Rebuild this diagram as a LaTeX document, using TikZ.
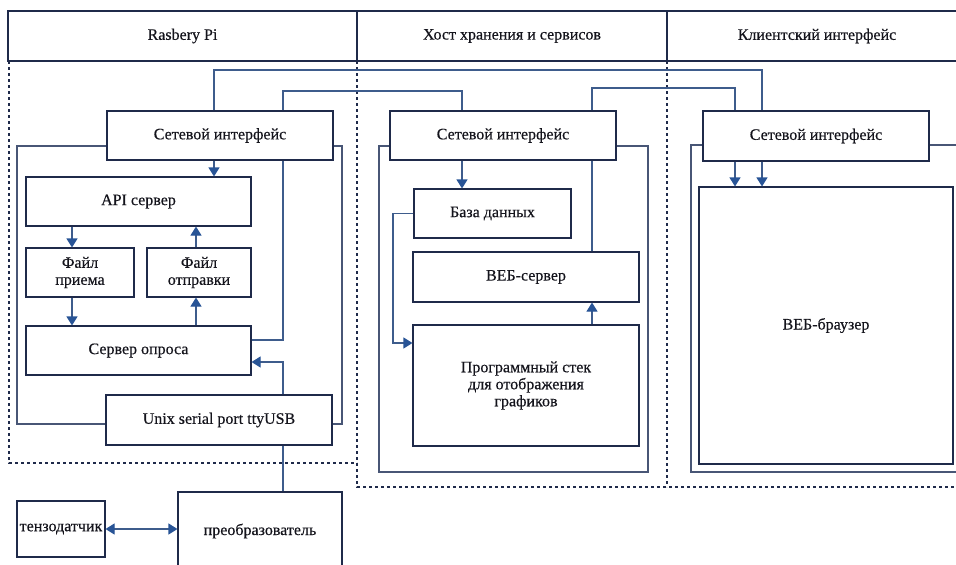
\documentclass[tikz,border=0pt]{standalone}
\usepackage{fontspec}
\setmainfont{Liberation Serif}[FakeBold=0.4]
\usetikzlibrary{arrows.meta}

\definecolor{navyc}{RGB}{31,42,74}
\definecolor{linec}{RGB}{62,92,140}
\definecolor{tipc}{RGB}{40,84,150}
\definecolor{framec}{RGB}{72,86,118}
\definecolor{inkc}{RGB}{20,20,28}

\begin{document}
\begin{tikzpicture}[
    x=1pt, y=-1pt,
    >={Triangle[width=11pt,length=9pt,color=tipc]},
    font=\fontsize{16}{17}\selectfont,
    text=inkc,
    box/.style={draw=navyc, line width=1.1pt, fill=white, inner sep=0pt, align=center},
    head/.style={draw=navyc, line width=1.4pt, inner sep=0pt, minimum height=50pt},
    wire/.style={draw=linec, line width=1.1pt},
    lane/.style={draw=navyc, line width=1.1pt, dash pattern=on 3pt off 3pt},
    frame/.style={draw=framec, line width=1.1pt}
    ]

    \clip (0,0) rectangle (956,565);

    % lanes and inner frames
    \draw[lane] (9,61) -- (9,463) -- (357,463);
    \draw[lane] (357,61) -- (357,487) -- (970,487);
    \draw[lane] (667,61) -- (667,487);
    \draw[frame] (17,146) rectangle (342,424);
    \draw[frame] (379,146) rectangle (648,472);
    \draw[frame] (691,145) rectangle (990,472);

    \node [head, minimum width=349pt] (hPi) at (182.5,36) {Rasbery Pi};
    \node [head, minimum width=310pt] (hHost) at (512,36) {Хост хранения и сервисов};
    \node [head, minimum width=300pt] (hClient) at (817,36) {Клиентский интерфейс};

    % Rasbery Pi
    \node [box, minimum width=226pt, minimum height=49pt] (netPi) at (220,135.5) {Сетевой интерфейс};
    \node [box, minimum width=225pt, minimum height=49pt] (api) at (138.5,201.5) {API сервер};
    \node [box, minimum width=108pt, minimum height=49pt] (fRecv) at (80,272.5) {Файл\\приема};
    \node [box, minimum width=104pt, minimum height=49pt] (fSend) at (199,272.5) {Файл\\отправки};
    \node [box, minimum width=225pt, minimum height=49pt] (poll) at (138.5,350.5) {Сервер опроса};
    \node [box, minimum width=226pt, minimum height=50pt] (tty) at (219,420) {Unix serial port ttyUSB};

    % host
    \node [box, minimum width=226pt, minimum height=49pt] (netHost) at (503,135.5) {Сетевой интерфейс};
    \node [box, minimum width=157pt, minimum height=49pt] (db) at (492.5,213.5) {База данных};
    \node [box, minimum width=226pt, minimum height=50pt] (web) at (526,277) {ВЕБ-сервер};
    \node [box, minimum width=226pt, minimum height=121pt] (stack) at (526,385.5) {Программный стек\\для отображения\\графиков};

    % client
    \node [box, minimum width=226pt, minimum height=50pt] (netCli) at (816,136) {Сетевой интерфейс};
    \node [box, minimum width=254pt, minimum height=277pt] (browser) at (826,325.5) {ВЕБ-браузер};

    % hardware
    \node [box, minimum width=164pt, minimum height=78pt] (conv) at (260,531) {преобразователь};
    \node [box, minimum width=88pt, minimum height=56pt] (sensor) at (61,529) {тензодатчик};

    \coordinate (cRecv) at (72,0);
    \coordinate (cSend) at (196,0);
    \coordinate (cApi) at (214,70);
    \coordinate (cPoll) at (283,91);
    \coordinate (cOut) at (283,340);
    \coordinate (cUsb) at (283,362);
    \coordinate (cDb) at (462,91);
    \coordinate (cLoop) at (393,343);
    \coordinate (cWeb) at (592,88);
    \coordinate (cCli1) at (735,88);
    \coordinate (cCli2) at (762,70);

    \draw[wire,->] (netPi.south -| cApi) -- (api.north -| cApi);
    \draw[wire,->] (api.south -| cRecv) -- (fRecv.north -| cRecv);
    \draw[wire,->] (fRecv.south -| cRecv) -- (poll.north -| cRecv);
    \draw[wire,->] (poll.north -| cSend) -- (fSend.south -| cSend);
    \draw[wire,->] (fSend.north -| cSend) -- (api.south -| cSend);
    \draw[wire] (poll.east |- cOut) -- (cOut) -- (cOut |- netPi.south);
    \draw[wire] (netPi.north -| cPoll) -- (cPoll) -- (cDb) -- (netHost.north -| cDb);
    \draw[wire] (netPi.north -| cApi) -- (cApi) -- (cCli2) -- (netCli.north -| cCli2);
    \draw[wire,->] (tty.north -| cUsb) -- (cUsb) -- (poll.east |- cUsb);
    \draw[wire] (tty.south -| cUsb) -- (conv.north -| cUsb);
    \draw[wire,<->] (sensor.east) -- (sensor.east -| conv.west);

    \draw[wire,->] (netHost.south -| cDb) -- (db.north -| cDb);
    \draw[wire,->] (db.west) -| (cLoop) -- (stack.west |- cLoop);
    \draw[wire,->] (stack.north -| cWeb) -- (web.south -| cWeb);
    \draw[wire] (web.north -| cWeb) -- (netHost.south -| cWeb);
    \draw[wire] (netHost.north -| cWeb) -- (cWeb) -- (cCli1) -- (netCli.north -| cCli1);

    \draw[wire,->] (netCli.south -| cCli1) -- (browser.north -| cCli1);
    \draw[wire,->] (netCli.south -| cCli2) -- (browser.north -| cCli2);

  \end{tikzpicture}
\end{document}
